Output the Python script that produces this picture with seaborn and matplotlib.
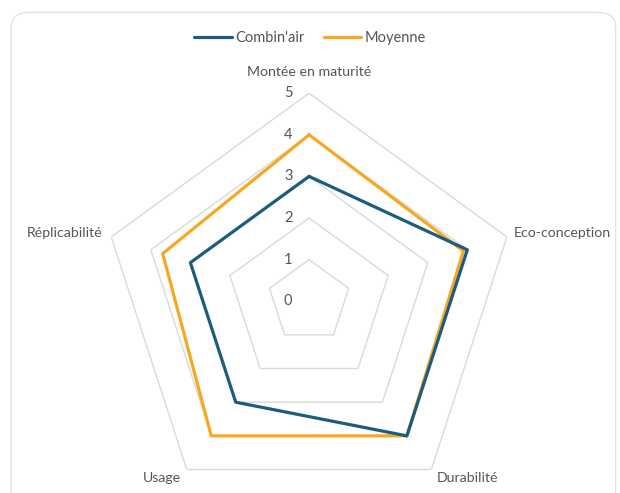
import numpy as np
import matplotlib.pyplot as plt
import seaborn as sns
from matplotlib.patches import FancyBboxPatch

categories = ["Montée en maturité", "Eco-conception", "Durabilité", "Usage", "Réplicabilité"]
combinair = [3, 4, 4, 3, 3]
moyenne = [4, 3.9, 4, 4, 3.7]
levels = [0, 1, 2, 3, 4, 5]

BLUE = "#1C5C7D"
ORANGE = "#F7A823"
GRID = "#D9D9D9"
TXT = "#555555"

sns.set_theme(style="white")
plt.rcParams["font.family"] = ["Lato", "DejaVu Sans"]

fig = plt.figure(figsize=(6.2, 4.93), dpi=100)
fig.patch.set_facecolor("white")

# rounded frame round the chart
frame = FancyBboxPatch((0.018, -0.05), 0.975, 1.025, boxstyle="round,pad=0,rounding_size=0.03",
                       transform=fig.transFigure, facecolor="none", edgecolor="#E3E3E3", lw=1.0)
fig.patches.append(frame)

ax = fig.add_axes([0.163, -0.033, 0.671, 0.844], projection="polar")
ax.set_theta_offset(np.pi / 2)
ax.set_theta_direction(-1)
ax.set_facecolor("none")
ax.spines["polar"].set_visible(False)
ax.grid(False)
ax.set_xticks([])
ax.set_yticks([])
ax.set_ylim(0, 5)

n = len(categories)
theta = np.linspace(0, 2 * np.pi, n, endpoint=False)
theta_c = np.append(theta, theta[0])

for lv in levels[1:]:
    ax.plot(theta_c, [lv] * (n + 1), color=GRID, lw=1.0, zorder=1)

for lv in levels:
    ax.annotate(str(lv), xy=(0, lv), xytext=(-15, 0), textcoords="offset points",
                ha="center", va="center", fontsize=10.5, color=TXT)

ax.plot(theta_c, combinair + combinair[:1], color=BLUE, lw=2.3, label="Combin'air", zorder=3)
ax.plot(theta_c, moyenne + moyenne[:1], color=ORANGE, lw=2.3, label="Moyenne", zorder=2)

offsets = [((0, 15), "center"), ((5, 3), "left"), ((4, -6), "left"),
           ((-4, -6), "right"), ((-6.5, 3), "right")]
for t, lab, (off, ha) in zip(theta, categories, offsets):
    ax.annotate(lab, xy=(t, 5), xytext=off, textcoords="offset points",
                ha=ha, va="center", fontsize=10.2, color=TXT)

handles, labels = ax.get_legend_handles_labels()
fig.legend(handles, labels, loc="center", bbox_to_anchor=(0.5, 0.922), ncol=2, frameon=False,
           fontsize=10.5, labelcolor=TXT, handlelength=2.6, handletextpad=0.2, columnspacing=1.3)

fig.savefig("out.png", dpi=100)
